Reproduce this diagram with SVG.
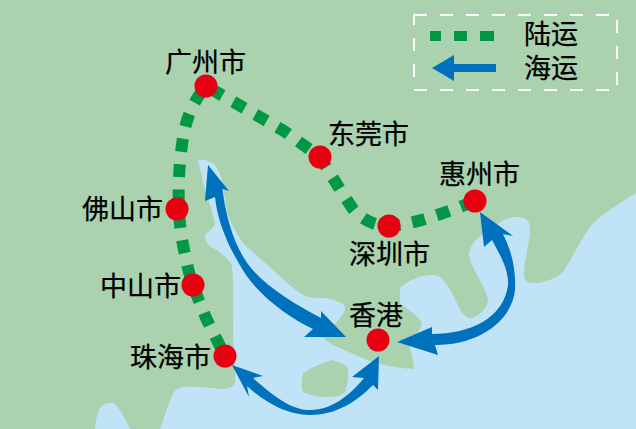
<svg xmlns="http://www.w3.org/2000/svg" width="636" height="429" viewBox="0 0 636 429">
<style>
.land{fill:#aad2ae}.sea{fill:#c1e3f8}
.route{fill:none;stroke:#009844;stroke-width:12;stroke-dasharray:13 12.5}
.sr{fill:#0071bc}
.dot{fill:#e60012}
text{font-family:"Noto Sans CJK SC","Noto Sans CJK JP",sans-serif;font-size:27px;fill:#000;stroke:#000;stroke-width:.25}
</style>
<rect class="land" width="636" height="429"/>
<path class="sea" d="M636 193C620 203 600 215 590 227C582 238 572 258 563 272C555 280 538 284 533 283C526 283 524 280 524 274C524 260 530 242 530 230C530 220 526 217 517 217C506 217 497 224 488 230C476 238 469 247 469 255C470 266 486 287 488 300C488 308 477 318 470 318C462 318 457 302 452 293C446 283 442 276 434 275C423 274 408 280 400 288L400 303C408 310 420 317 422 323C420 333 410 340 410 347C412 356 414 362 414 369C395 368 375 364 360 357C345 350 330 345 323 338C330 328 342 318 345 310C346 304 340 302 327 298C315 298 309 298 303 295C292 288 284 280 273 270C260 258 250 250 243 243C236 232 230 222 227 213C225 200 224 190 222 180C219 172 217 166 213 163C207 160 201 159 198 160C200 168 202 176 203 183C208 198 213 212 215 225C212 230 205 233 205 237C206 245 212 248 217 250C224 256 232 262 232 267C234 290 233 315 233 337C234 355 236 372 235 383C232 388 228 389 222 389C208 388 195 386 185 387C177 388 175 391 173 393C168 405 164 418 160 429L636 429Z"/>
<path class="sea" d="M95 429C96 418 98 411 100 408C104 404 109 402 113 403C118 405 125 418 130 429Z"/>
<path class="land" d="M332 360C338 362 345 364 348 368C349 377 347 387 345 393C340 396 333 397 327 397C318 397 310 395 303 392C301 386 302 378 303 373C312 367 323 363 332 360Z"/>
<g id="connectors">
<path class="route" stroke-dashoffset="-9" d="M225 356L206 318C198 298 192 285 188 268C184 250 180 235 179 209C178 185 179 165 183 138C186 118 194 100 206 86"/>
<path class="route" stroke-dashoffset="-6" d="M206 86L284 131L320 157C328 170 340 190 353 209C362 220 375 226 389 226C410 225 440 215 475 201"/>
<path class="sr" d="M208 165L229 191L222.500 189C226 220 236 250 251 268C268 288 295 304 321 318L321 311L346 337L304 337L313 329C290 318 262 298 246 275C230 250 218 225 215 197L205 201Z"/>
<path class="sr" d="M232 365L263 376L253 378C270 393 290 410 310 410C332 410 350 395 364 378L352 377L379 356L378 390L373 385C355 403 335 415 310 415C285 415 262 400 247 386L249 397Z"/>
<path class="sr" d="M480 212L513 236L503 234C512 252 516 270 515 290C512 320 480 345 435 345L438 355L397 342L432 327L432 334C470 334 504 318 508 285C509 270 500 255 492 240L484 247Z"/>
</g>
<g id="guangzhou"><circle class="dot" cx="206" cy="86" r="11.5"/><text x="165" y="72">广州市</text></g>
<g id="dongguan"><circle class="dot" cx="320" cy="157" r="11.5"/><text x="328" y="144">东莞市</text></g>
<g id="huizhou"><circle class="dot" cx="475" cy="201" r="11.5"/><text x="439" y="184">惠州市</text></g>
<g id="shenzhen"><circle class="dot" cx="389" cy="226" r="11.5"/><text x="349" y="264">深圳市</text></g>
<g id="foshan"><circle class="dot" cx="177" cy="209" r="11.5"/><text x="82" y="219">佛山市</text></g>
<g id="zhongshan"><circle class="dot" cx="193" cy="285" r="11.5"/><text x="100" y="296">中山市</text></g>
<g id="zhuhai"><circle class="dot" cx="225" cy="356" r="11.5"/><text x="130" y="367">珠海市</text></g>
<g id="hongkong"><circle class="dot" cx="378" cy="340" r="11.5"/><text x="349" y="325">香港</text></g>
<g id="legend">
<rect x="414" y="15" width="203" height="75" fill="none" stroke="#fff" stroke-width="2" stroke-dasharray="13 13"/>
<path d="M430 31h11v10h-11zM454 31h13v10h-13zM480 31h14v10h-14z" fill="#009844"/>
<path class="sr" d="M432 68L454 55V64H496V72H454V81Z"/>
<text x="524" y="44">陆运</text>
<text x="524" y="78">海运</text>
</g>
</svg>
